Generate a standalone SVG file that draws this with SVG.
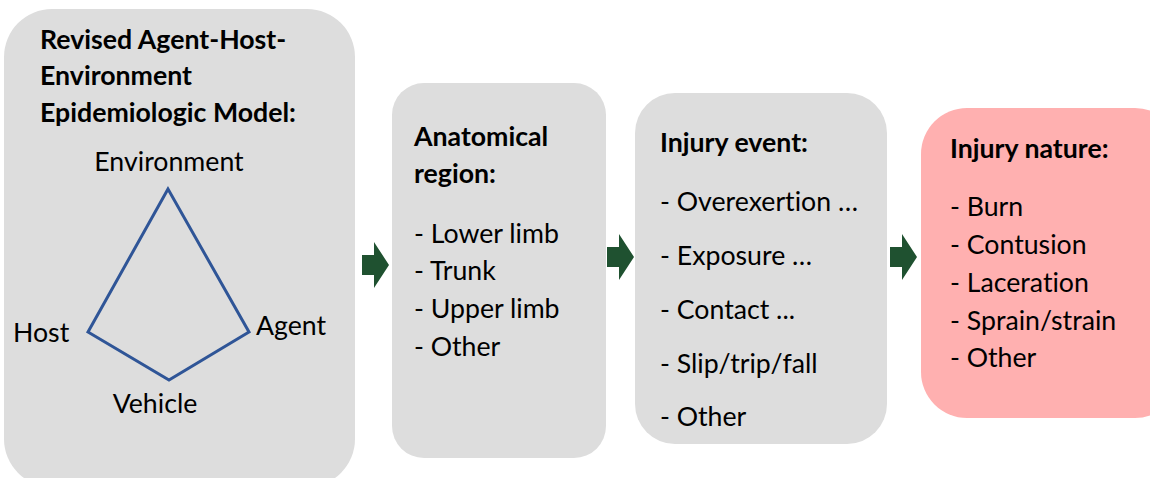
<svg xmlns="http://www.w3.org/2000/svg" width="1150" height="478" viewBox="0 0 1150 478">
<style>
text{font-family:Lato,"Open Sans",sans-serif;font-size:26.7px;fill:#000;font-variant-ligatures:none}
.b{font-weight:bold}
.box{fill:#dddddd}
.arr{fill:#1f5130}
</style>
<rect width="1150" height="478" fill="#fff"/>
<g id="model">
<rect class="box" x="4" y="9" width="351" height="478" rx="48"/>
<text class="b" x="40" y="49">Revised Agent-Host-</text>
<text class="b" x="40" y="85">Environment</text>
<text class="b" x="40" y="122">Epidemiologic Model:</text>
<text x="169" y="171" text-anchor="middle">Environment</text>
<polygon points="168,189 88,332 169,380 249,332" fill="none" stroke="#2f5597" stroke-width="3"/>
<text x="13" y="342">Host</text>
<text x="256" y="335">Agent</text>
<text x="155" y="413" text-anchor="middle">Vehicle</text>
</g>
<g id="anatomical">
<rect class="box" x="392" y="83" width="214" height="375" rx="32"/>
<text class="b" x="414" y="146">Anatomical</text>
<text class="b" x="414" y="183">region:</text>
<text x="414" y="243">- Lower limb</text>
<text x="414" y="280">- Trunk</text>
<text x="414" y="318">- Upper limb</text>
<text x="414" y="356">- Other</text>
</g>
<g id="event">
<rect class="box" x="635" y="93" width="252" height="351" rx="40"/>
<text class="b" x="660" y="152">Injury event:</text>
<text x="660" y="211">- Overexertion …</text>
<text x="660" y="265">- Exposure …</text>
<text x="660" y="319">- Contact ...</text>
<text x="660" y="373">- Slip/trip/fall</text>
<text x="660" y="426">- Other</text>
</g>
<g id="nature">
<rect x="921" y="108" width="260" height="310" rx="46" fill="#ffb0b0"/>
<text class="b" x="950" y="158">Injury nature:</text>
<text x="950" y="216">- Burn</text>
<text x="950" y="254">- Contusion</text>
<text x="950" y="292">- Laceration</text>
<text x="950" y="330">- Sprain/strain</text>
<text x="950" y="367">- Other</text>
</g>
<g id="connectors">
<polygon class="arr" points="362,255 374,255 374,242 389,265 374,288 374,275 362,275"/>
<polygon class="arr" points="607,247 619,247 619,234 634,257 619,280 619,267 607,267"/>
<polygon class="arr" points="890,247 902,247 902,234 917,257 902,280 902,267 890,267"/>
</g>
</svg>
